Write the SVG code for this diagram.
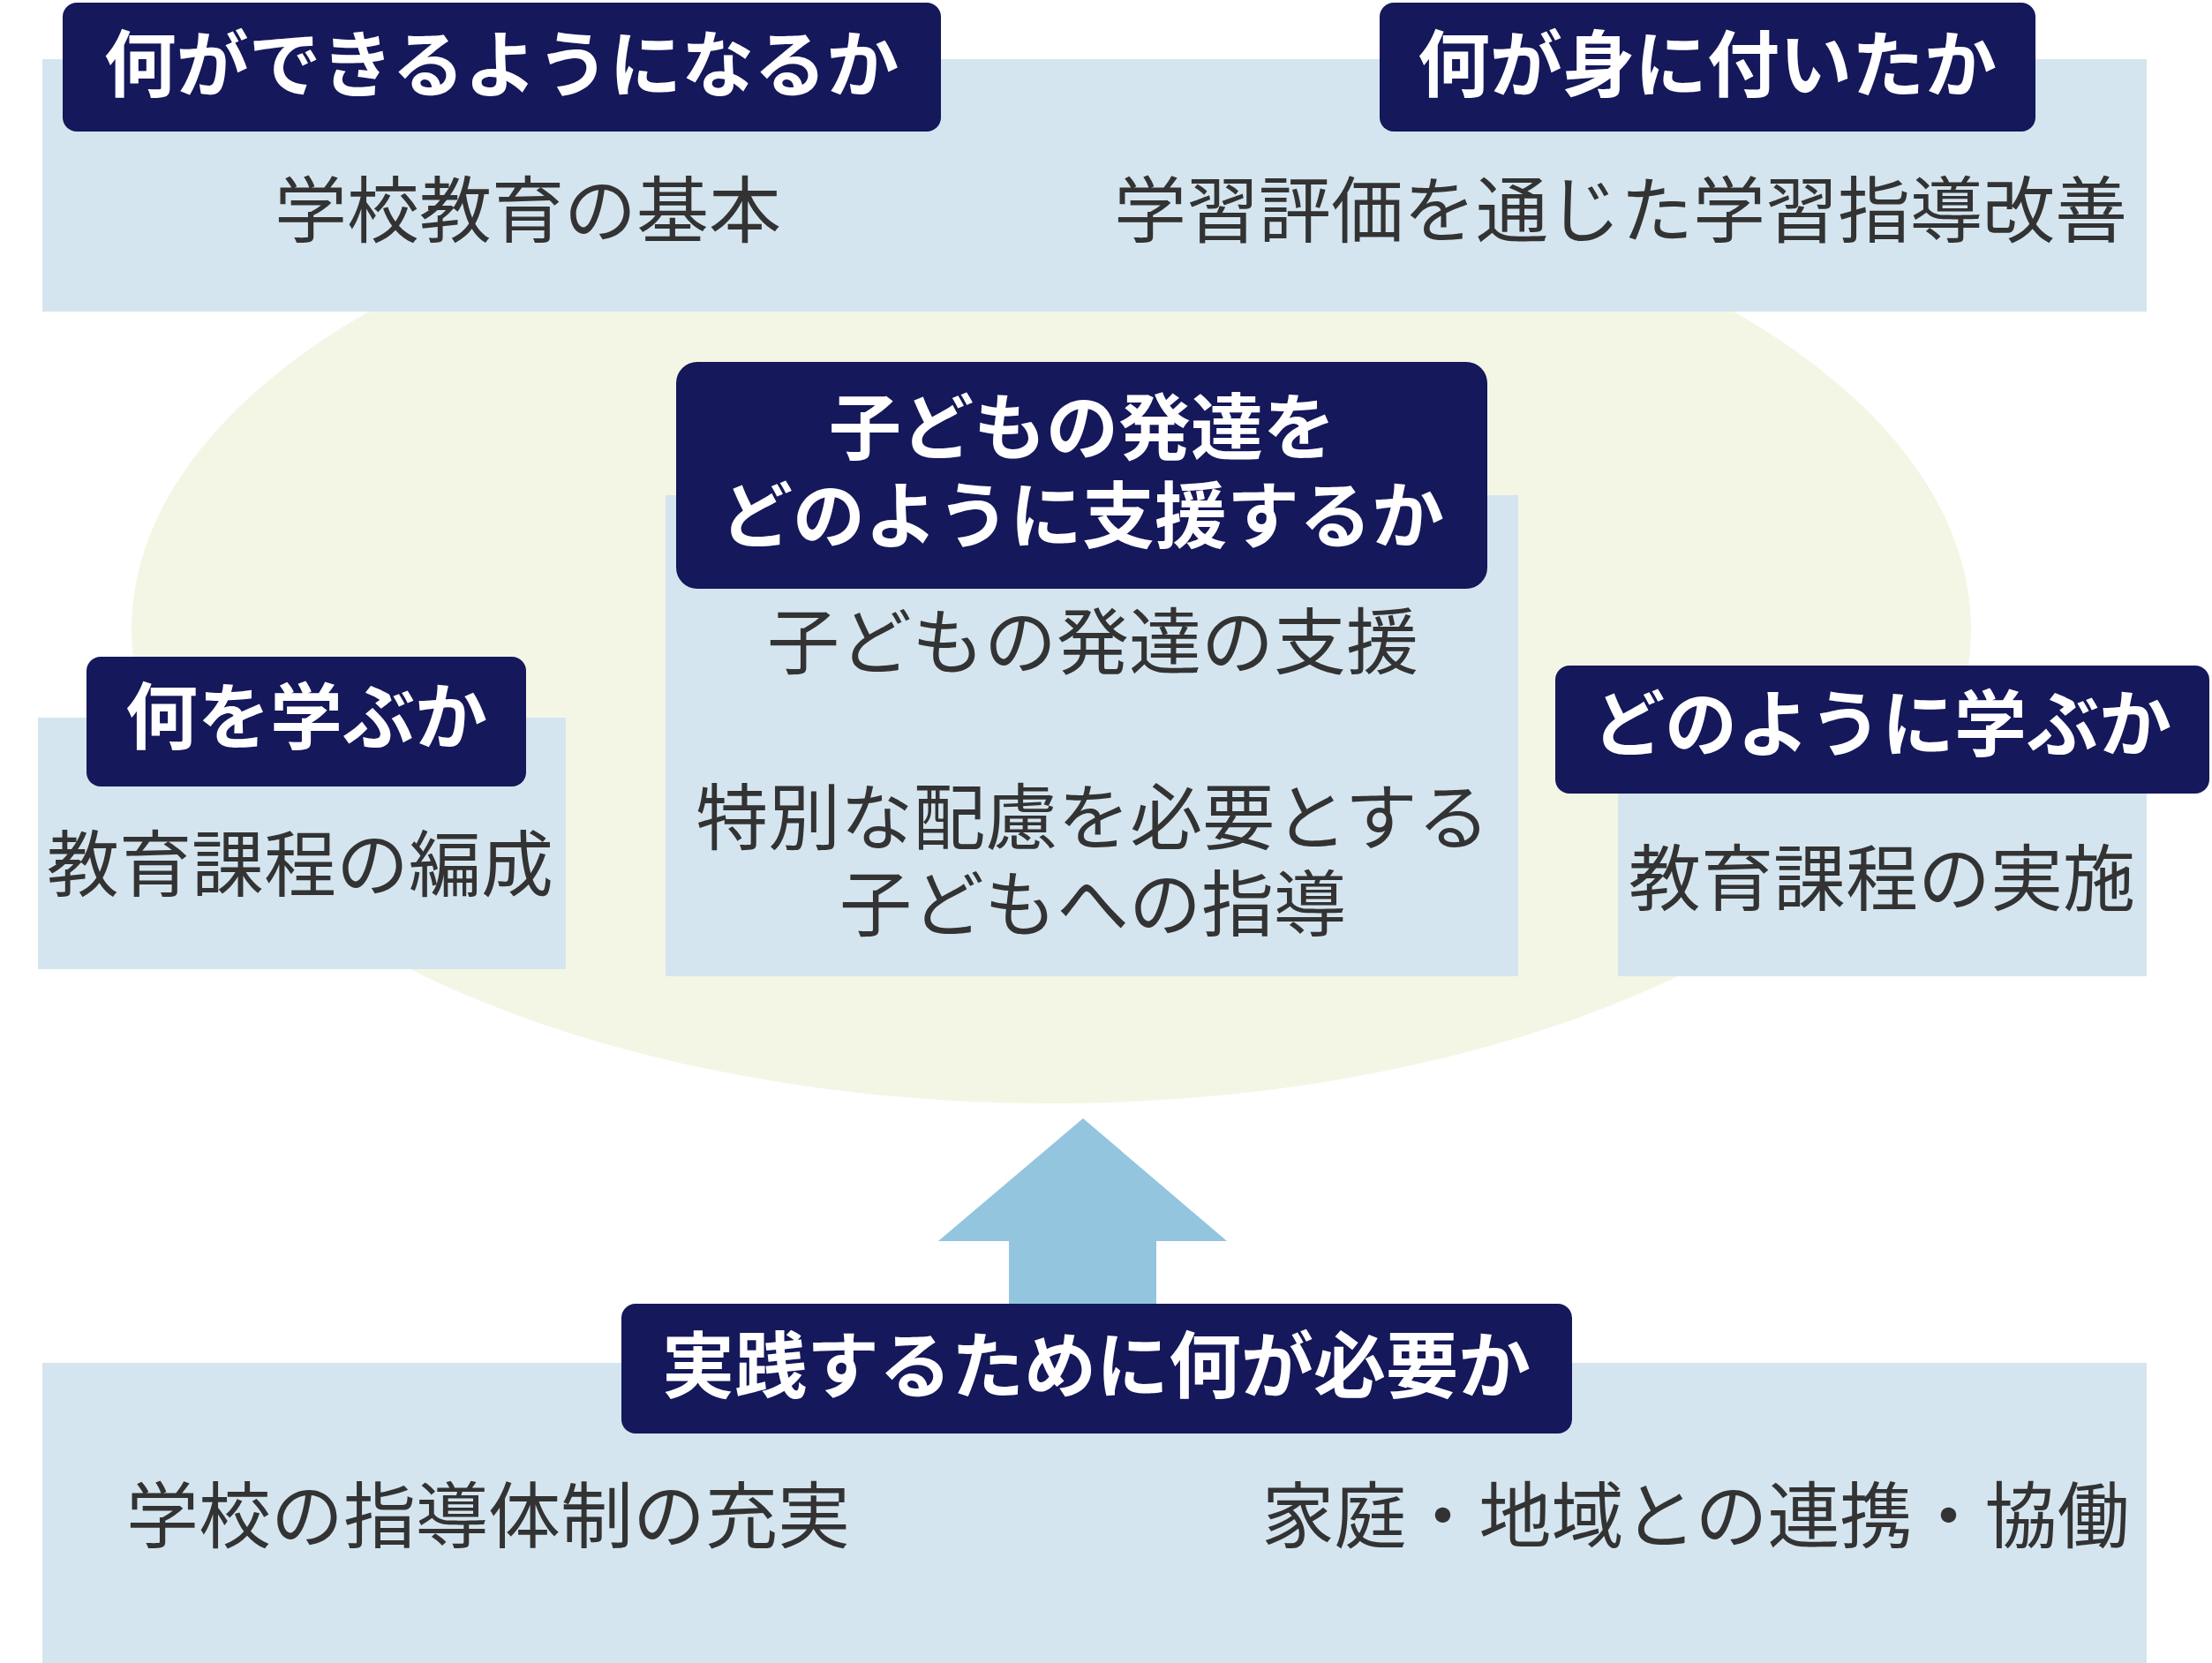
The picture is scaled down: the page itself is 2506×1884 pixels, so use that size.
<svg xmlns="http://www.w3.org/2000/svg" width="2506" height="1884" viewBox="0 0 2506 1884">
<style>
.band{fill:#d4e5ef}
.lab{fill:#15185a}
.lt{font-family:"Noto Sans CJK JP","Noto Sans CJK SC",sans-serif;font-weight:bold;font-size:82px;fill:#fff;text-anchor:middle;dominant-baseline:central}
.bt{font-family:"Noto Sans CJK JP","Noto Sans CJK SC",sans-serif;font-size:82px;fill:#333;text-anchor:middle;dominant-baseline:central}
</style>
<rect width="2506" height="1884" fill="#fff"/>
<ellipse cx="1191" cy="713" rx="1042" ry="537" fill="#f4f6e5"/>
<g id="top">
<rect class="band" x="48" y="67" width="2384" height="286"/>
<text class="bt" x="598" y="232">学校教育の基本</text>
<text class="bt" x="1836" y="232">学習評価を通じた学習指導改善</text>
</g>
<g id="label-top-left"><rect class="lab" x="71" y="3" width="995" height="146" rx="16"/><text class="lt" x="568" y="67">何ができるようになるか</text></g>
<g id="label-top-right"><rect class="lab" x="1563" y="3" width="743" height="146" rx="16"/><text class="lt" x="1934" y="67">何が身に付いたか</text></g>
<g id="center">
<rect class="band" x="754" y="561" width="966" height="545"/>
<rect class="lab" x="766" y="410" width="919" height="257" rx="24"/>
<text class="lt" x="1226" y="478">子どもの発達を</text>
<text class="lt" x="1226" y="578">どのように支援するか</text>
<text class="bt" x="1238" y="721">子どもの発達の支援</text>
<text class="bt" x="1238" y="920">特別な配慮を必要とする</text>
<text class="bt" x="1238" y="1018">子どもへの指導</text>
</g>
<g id="left">
<rect class="band" x="43" y="813" width="598" height="285"/>
<rect class="lab" x="98" y="744" width="498" height="147" rx="16"/>
<text class="lt" x="347" y="806">何を学ぶか</text>
<text class="bt" x="340" y="973">教育課程の編成</text>
</g>
<g id="right">
<rect class="band" x="1833" y="898" width="599" height="208"/>
<rect class="lab" x="1762" y="754" width="741" height="145" rx="16"/>
<text class="lt" x="2132" y="814">どのように学ぶか</text>
<text class="bt" x="2132" y="989">教育課程の実施</text>
</g>
<g id="connectors">
<polygon points="1227,1267 1390,1406 1310,1406 1310,1490 1143,1490 1143,1406 1063,1406" fill="#93c5df"/>
</g>
<g id="bottom">
<rect class="band" x="48" y="1544" width="2384" height="340"/>
<rect class="lab" x="704" y="1477" width="1077" height="147" rx="16"/>
<text class="lt" x="1242" y="1541">実践するために何が必要か</text>
<text class="bt" x="553" y="1711">学校の指導体制の充実</text>
<text class="bt" x="1921" y="1711">家庭・地域との連携・協働</text>
</g>
</svg>
